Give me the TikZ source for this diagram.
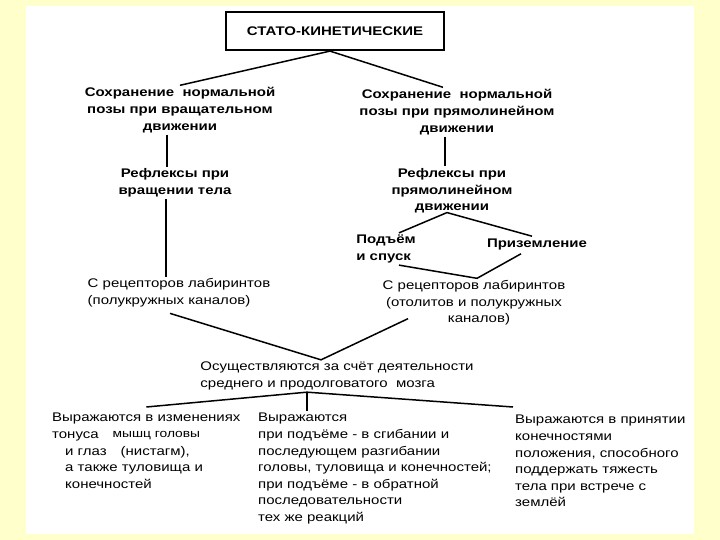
\documentclass[tikz,border=0pt]{standalone}
\usepackage{fontspec}
\setmainfont{Liberation Sans}[FakeStretch=1.2]
\usepackage{tikz}
\usetikzlibrary{positioning}

\definecolor{slideyellow}{RGB}{255,255,204}

\begin{document}
\begin{tikzpicture}[x=1pt, y=-1pt,
      every node/.style={font=\fontsize{12.5}{16.6}\selectfont, align=center, inner sep=2pt},
      head/.style={font=\fontsize{12.5}{16.6}\selectfont\bfseries},
      titlebox/.style={draw, line width=2.2pt, minimum width=218pt, minimum height=38pt,
                       font=\fontsize{12.5}{15}\selectfont\bfseries},
      plain/.style={align=left, anchor=north west},
      link/.style={line width=1.5pt, draw=black},
  ]
    %% --- slide background ---
    \fill[slideyellow] (0,0) rectangle (720,540);
    \fill[white] (26,6) rectangle (694,534);

    %% --- top box and the two postures ---
    \node[titlebox] (stato) at (335,31) {СТАТО-КИНЕТИЧЕСКИЕ};
    \node[head] (rot) at (180,110) {Сохранение\ \ нормальной\\позы при вращательном\\движении};
    \node[head] (lin) at (457,112) {Сохранение\ \ нормальной\\позы при прямолинейном\\движении};

    %% --- reflexes ---
    \node[head] (reflRot) at (175,183) {Рефлексы при\\вращении тела};
    \node[head] (reflLin) at (452,191) {Рефлексы при\\прямолинейном\\движении};
    \node[head, align=left] (up) at (386,249) {Подъём\\и спуск};
    \node[head] (land) at (537,244) {Приземление};

    %% --- receptors ---
    \node[align=left] (recRot) at (179,293) {С рецепторов лабиринтов\\(полукружных каналов)};
    \node (recLin) at (474,303) {С рецепторов лабиринтов\\(отолитов и полукружных\\\hspace*{10pt}каналов)};

    %% --- brain ---
    \node[align=left] (brain) at (337,376) {Осуществляются за счёт деятельности\\среднего и продолговатого\ \ мозга};

    %% --- three outcomes ---
    \node[plain] (outLeft) at (50,411) {Выражаются в изменениях\\
      тонуса\hspace*{14pt}\raisebox{1pt}{\fontsize{11.5}{14}\selectfont мышц головы}\\
      \hspace*{13pt}и глаз\hspace*{14pt}(нистагм),\\
      \hspace*{13pt}а также туловища и\\
      \hspace*{13pt}конечностей};
    \node[plain] (outMid) at (256,411) {Выражаются\\при подъёме - в сгибании и\\последующем разгибании\\головы, туловища и конечностей;\\при подъёме - в обратной\\последовательности\\тех же реакций};
    \node[plain] (outRight) at (513,413) {Выражаются в принятии\\конечностями\\положения, способного\\поддержать тяжесть\\тела при встрече с\\землёй};

    %% --- connectors ---
    \coordinate (top) at ([xshift=-5]stato.south);
    \draw[link] (rot.north) -- (top) -- ([xshift=-14]lin.north);

    \draw[link] ([xshift=-13]rot.south) -- ([xshift=-13]rot.south |- reflRot.north);
    \draw[link] ([xshift=-9]reflRot.south) -- ([xshift=-9]reflRot.south |- recRot.north);
    \draw[link] ([xshift=-12]lin.south) -- ([xshift=-12]lin.south |- reflLin.north);

    \draw[link] ([xshift=13]up.north) -- ([xshift=-5, yshift=3]reflLin.south) -- ([xshift=-5]land.north);
    \draw[link] ([xshift=13]up.south) -- ([xshift=3]recLin.north) -- ([xshift=-16, yshift=-2]land.south);

    \draw[link] ([xshift=-9, yshift=-4]recRot.south) -- ([xshift=-16]brain.north)
                -- ([xshift=-66, yshift=9]recLin.south);

    \coordinate (fork) at ([xshift=-30]brain.south);
    \draw[link] ([yshift=4]outLeft.north) -- (fork) -- ([yshift=6]outRight.north west);
    \draw[link] (fork) -- (fork |- outMid.north);
  \end{tikzpicture}
\end{document}
